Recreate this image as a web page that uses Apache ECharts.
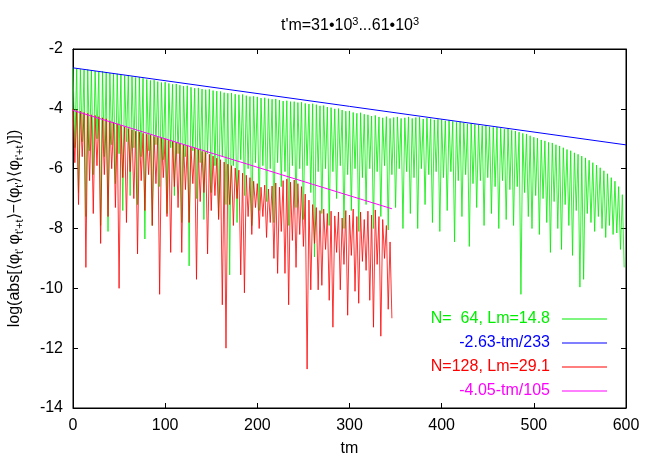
<!DOCTYPE html>
<html>
<head>
<meta charset="utf-8">
<script src="https://cdn.jsdelivr.net/npm/echarts@6/dist/echarts.min.js"></script>
<style>
  html, body { margin: 0; padding: 0; background: #fff; }
  #chart { width: 654px; height: 458px; }
</style>
</head>
<body>
<div id="chart"></div>
<script>
// sample step of the oscillation (tm units); peaks at k*step, troughs half a step later
const step = 4

// N=64, Lm=14.8 : local maxima and minima
const greenPeaks = [
  -2.63, -2.66, -2.68, -2.70, -2.69, -2.72, -2.74, -2.76, -2.75, -2.79,
  -2.81, -2.84, -2.83, -2.87, -2.89, -2.88, -2.92, -2.95, -2.94, -2.98,
  -3.02, -3.05, -3.04, -3.09, -3.12, -3.11, -3.15, -3.18, -3.17, -3.21,
  -3.24, -3.23, -3.28, -3.31, -3.30, -3.34, -3.36, -3.35, -3.39, -3.41,
  -3.42, -3.46, -3.48, -3.47, -3.51, -3.53, -3.52, -3.56, -3.59, -3.58,
  -3.60, -3.64, -3.63, -3.66, -3.68, -3.67, -3.71, -3.74, -3.73, -3.76,
  -3.76, -3.79, -3.78, -3.82, -3.84, -3.83, -3.86, -3.90, -3.89, -3.94,
  -3.96, -4.00, -3.99, -4.04, -4.08, -4.07, -4.12, -4.15, -4.13, -4.18,
  -4.20, -4.24, -4.22, -4.27, -4.30, -4.26, -4.32, -4.29, -4.27, -4.32,
  -4.30, -4.27, -4.32, -4.29, -4.28, -4.34, -4.31, -4.33, -4.37, -4.35,
  -4.36, -4.40, -4.38, -4.42, -4.45, -4.43, -4.47, -4.50, -4.48, -4.52,
  -4.54, -4.57, -4.55, -4.60, -4.62, -4.61, -4.65, -4.68, -4.66, -4.72,
  -4.74, -4.78, -4.82, -4.84, -4.90, -4.95, -4.98, -5.04, -5.07, -5.12,
  -5.14, -5.20, -5.24, -5.30, -5.36, -5.40, -5.47, -5.52, -5.58, -5.64,
  -5.72, -5.80, -5.88, -5.97, -6.07, -6.17, -6.30, -6.42, -6.60, -6.87
]
const greenTroughs = [
  -5.3, -6.8, -5.1, -7.6, -5.4, -6.2, -5.0, -7.9, -5.6, -8.1,
  -5.2, -6.5, -5.5, -7.4, -5.1, -6.9, -5.3, -7.2, -5.6, -8.35,
  -5.4, -7.9, -5.2, -6.6, -5.7, -7.5, -5.3, -6.9, -5.5, -7.8,
  -5.6, -9.25, -5.4, -7.0, -5.8, -7.7, -5.5, -6.8, -5.9, -7.6,
  -5.6, -7.2, -9.55, -5.9, -7.8, -5.7, -6.9, -6.0, -7.9, -5.8,
  -7.4, -5.9, -7.1, -6.0, -7.8, -5.8, -6.6, -6.1, -7.9, -5.9,
  -7.3, -6.0, -7.7, -5.9, -6.8, -8.95, -6.1, -7.5, -6.0, -7.9,
  -6.1, -7.0, -5.9, -8.0, -6.2, -7.4, -6.0, -8.1, -6.3, -7.2,
  -6.0, -8.0, -6.1, -7.6, -5.9, -8.05, -6.2, -7.3, -6.0, -8.0,
  -6.1, -7.5, -6.3, -8.0, -6.0, -7.2, -6.2, -7.8, -6.1, -8.1,
  -6.3, -7.4, -6.1, -8.45, -6.4, -7.6, -6.2, -8.6, -6.5, -7.3,
  -6.4, -7.9, -6.3, -7.5, -6.6, -8.0, -6.4, -7.7, -6.7, -7.9,
  -6.6, -10.2, -6.8, -7.6, -8.0, -6.9, -8.2, -7.0, -7.8, -8.8,
  -7.1, -8.0, -8.7, -7.2, -7.9, -8.9, -7.4, -9.96, -9.7, -7.5,
  -7.8, -8.1, -7.6, -8.0, -8.3, -7.9, -8.2, -8.15, -8.7, -9.3
]

// N=128, Lm=29.1
const redPeaks = [
  -4.00, -4.05, -4.08, -4.12, -4.15, -4.20, -4.22, -4.26, -4.30, -4.33,
  -4.40, -4.45, -4.50, -4.55, -4.60, -4.66, -4.70, -4.75, -4.78, -4.82,
  -4.85, -4.88, -4.92, -4.95, -4.98, -5.00, -5.05, -5.08, -5.12, -5.15,
  -5.20, -5.22, -5.28, -5.30, -5.35, -5.42, -5.45, -5.52, -5.58, -5.65,
  -5.70, -5.78, -5.85, -5.90, -5.98, -6.05, -6.15, -6.22, -6.30, -6.42,
  -6.50, -6.62, -6.55, -6.68, -6.58, -6.48, -6.62, -6.40, -6.35, -6.45,
  -6.38, -6.50, -6.60, -6.85, -7.05, -7.20, -7.30, -7.40, -7.35, -7.50,
  -7.42, -7.58, -7.45, -7.65, -7.40, -7.55, -7.35, -7.60, -7.45, -7.70,
  -7.42, -7.55, -7.38, -7.60, -7.70, -7.90, -8.45
]
const redTroughs = [
  -5.8, -7.2, -5.6, -9.3, -6.4, -7.5, -5.9, -8.5, -6.2, -7.6,
  -6.0, -7.3, -10.0, -6.3, -7.8, -6.1, -7.0, -8.85, -6.4, -7.4,
  -6.2, -7.9, -6.5, -10.2, -6.3, -7.6, -8.8, -6.6, -7.3, -8.8,
  -6.7, -7.8, -6.5, -9.7, -7.1, -6.8, -8.85, -7.4, -6.9, -7.7,
  -10.55, -12.0, -7.2, -7.9, -7.0, -9.55, -10.15, -7.6, -8.2, -7.3,
  -8.0, -7.6, -8.3, -7.8, -9.0, -9.5, -8.1, -9.5, -10.55, -8.4,
  -9.3, -8.2, -8.6, -12.7, -10.05, -8.5, -10.05, -9.9, -8.7, -10.4,
  -11.3, -8.8, -10.05, -9.2, -10.9, -8.9, -10.1, -10.5, -9.1, -9.4,
  -10.4, -11.3, -9.2, -11.6, -9.0, -10.7, -11.0
]

// fitted lines, end points
const blueLine = [[0, -2.63], [600, -5.205]]
const magentaLine = [[0, -4.05], [346, -7.34]]

const seriesNames = ['N=  64, Lm=14.8', '-2.63-tm/233', 'N=128, Lm=29.1', '-4.05-tm/105']
const seriesColors = ['#00ee00', '#0000ff', '#ff0000', '#ff00ff']

const xTicks = [0, 600, 100]   // min, max, interval
const yTicks = [-14, -2, 2]

// merge maxima and minima into one curve
const toCurve = (peaks, troughs) => {
  const out = []
  peaks.forEach((p, i) => {
    out.push([i * step, p])
    if (troughs[i] !== undefined) out.push([i * step + step / 2, troughs[i]])
  })
  return out
}

const font = 'Liberation Sans, Arial, sans-serif'
const chart = echarts.init(document.getElementById('chart'), null, { renderer: 'canvas' })

const lineSeries = (name, color, data, width) => ({
  name,
  type: 'line',
  data,
  color,
  showSymbol: false,
  symbol: 'none',
  lineStyle: { color, width },
  emphasis: { disabled: true },
  animation: false
})

const option = {
  animation: false,
  textStyle: { fontFamily: font },
  title: {
    text: "t'm=31•10{s|3}...61•10{s|3}",
    left: 350,
    top: 16,
    padding: 0,
    textAlign: 'center',
    textStyle: {
      fontFamily: font,
      fontSize: 16,
      fontWeight: 'normal',
      color: '#000',
      lineHeight: 20,
      rich: {
        s: { fontFamily: font, fontSize: 11, lineHeight: 10, verticalAlign: 'top', color: '#000' }
      }
    }
  },
  grid: {
    left: 73,
    right: 28,
    top: 49,
    bottom: 50,
    containLabel: false,
    outerBoundsMode: 'none',
    show: true,
    borderColor: '#000',
    borderWidth: 1
  },
  legend: {
    orient: 'vertical',
    align: 'right',
    right: 47,
    top: 311,
    padding: 0,
    itemGap: 8,
    itemWidth: 45,
    itemHeight: 1,
    icon: 'rect',
    selectedMode: false,
    textStyle: { fontFamily: font, fontSize: 16, lineHeight: 16, padding: [0, 7, 0, 0] },
    data: seriesNames.map((n, i) => ({ name: n, textStyle: { color: seriesColors[i] } }))
  },
  xAxis: [
    {
      type: 'value',
      min: xTicks[0], max: xTicks[1], interval: xTicks[2],
      name: 'tm',
      nameLocation: 'middle',
      nameGap: 33,
      nameTextStyle: { fontFamily: font, fontSize: 16, color: '#000' },
      axisLine: { show: true, lineStyle: { color: '#000', width: 1 } },
      axisTick: { show: true, inside: true, length: 5, lineStyle: { color: '#000' } },
      axisLabel: { fontFamily: font, fontSize: 16, color: '#000', margin: 10 },
      splitLine: { show: false }
    },
    {
      type: 'value', position: 'top',
      min: xTicks[0], max: xTicks[1], interval: xTicks[2],
      axisLine: { show: true, lineStyle: { color: '#000', width: 1 } },
      axisTick: { show: true, inside: true, length: 5, lineStyle: { color: '#000' } },
      axisLabel: { show: false },
      splitLine: { show: false }
    }
  ],
  yAxis: [
    {
      type: 'value',
      min: yTicks[0], max: yTicks[1], interval: yTicks[2],
      name: "log(abs[⟨φ{s|t'} φ{s|t'+t}⟩−⟨φ{s|t'}⟩⟨φ{s|t'+t}⟩])",
      nameLocation: 'middle',
      nameRotate: 90,
      nameGap: 48,
      nameTextStyle: {
        fontFamily: font, fontSize: 16, color: '#000', lineHeight: 20,
        rich: {
          s: { fontFamily: font, fontSize: 11, lineHeight: 10, verticalAlign: 'bottom', color: '#000' }
        }
      },
      axisLine: { show: true, onZero: false, lineStyle: { color: '#000', width: 1 } },
      axisTick: { show: true, inside: true, length: 5, lineStyle: { color: '#000' } },
      axisLabel: { fontFamily: font, fontSize: 16, color: '#000', margin: 10 },
      splitLine: { show: false }
    },
    {
      type: 'value', position: 'right',
      min: yTicks[0], max: yTicks[1], interval: yTicks[2],
      axisLine: { show: true, onZero: false, lineStyle: { color: '#000', width: 1 } },
      axisTick: { show: true, inside: true, length: 5, lineStyle: { color: '#000' } },
      axisLabel: { show: false },
      splitLine: { show: false }
    }
  ],
  series: [
    lineSeries(seriesNames[0], seriesColors[0], toCurve(greenPeaks, greenTroughs), 0.8),
    lineSeries(seriesNames[1], seriesColors[1], blueLine, 1),
    lineSeries(seriesNames[2], seriesColors[2], toCurve(redPeaks, redTroughs), 0.8),
    lineSeries(seriesNames[3], seriesColors[3], magentaLine, 1)
  ]
}

chart.setOption(option)
window.addEventListener('resize', () => chart.resize())
</script>
</body>
</html>
